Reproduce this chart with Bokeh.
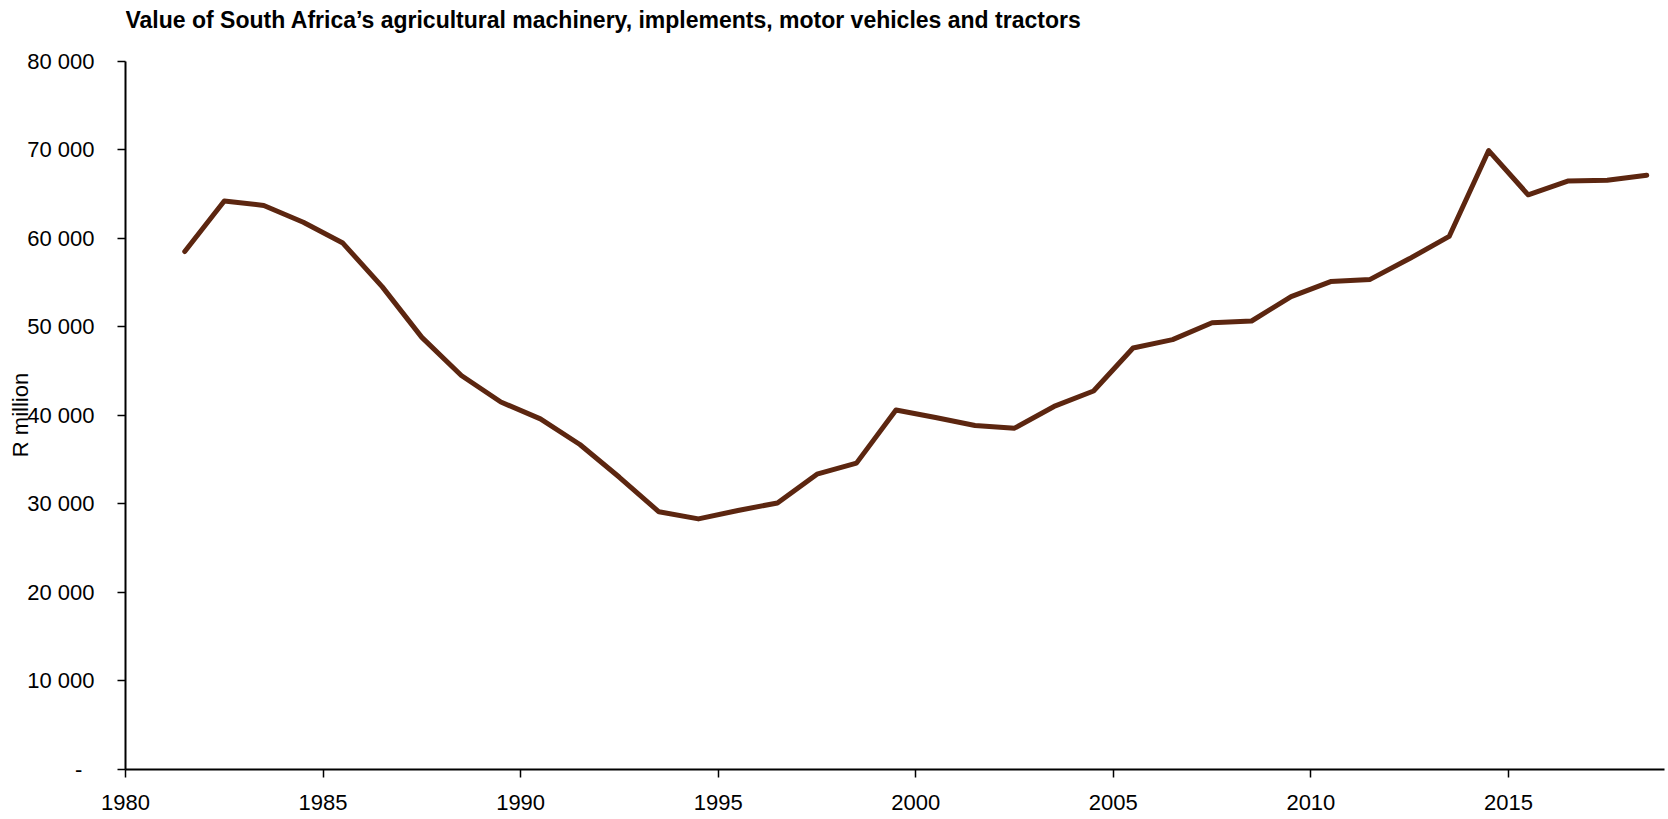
from bokeh.plotting import figure
from bokeh.models import FixedTicker, Range1d, Label
from bokeh.embed import file_html
from bokeh.resources import INLINE

# ---- data ----
title_text = "Value of South Africa\u2019s agricultural machinery, implements, motor vehicles and tractors"
y_axis_title = "R million"

years = [1981, 1982, 1983, 1984, 1985, 1986, 1987, 1988, 1989, 1990,
         1991, 1992, 1993, 1994, 1995, 1996, 1997, 1998, 1999, 2000,
         2001, 2002, 2003, 2004, 2005, 2006, 2007, 2008, 2009, 2010,
         2011, 2012, 2013, 2014, 2015, 2016, 2017, 2018]
values = [58500, 64200, 63700, 61800, 59450, 54500, 48800, 44500, 41500, 39600,
          36700, 33000, 29100, 28300, 29250, 30100, 33350, 34600, 40600, 39750,
          38850, 38550, 41000, 42750, 47600, 48550, 50450, 50650, 53400, 55100,
          55350, 57700, 60200, 69900, 64900, 66450, 66550, 67100]

x_ticks = [1980, 1985, 1990, 1995, 2000, 2005, 2010, 2015]
y_ticks = [0, 10000, 20000, 30000, 40000, 50000, 60000, 70000, 80000]
y_tick_labels = ["-\u00a0\u00a0", "10 000", "20 000", "30 000", "40 000",
                 "50 000", "60 000", "70 000", "80 000"]

FONT = "Liberation Sans"
LINE_COLOR = "#5C2610"

# each year's value is plotted at the middle of its year
x_pos = [y + 0.5 for y in years]

# the frame reaches up to the title row; the y axis itself stops at 80 000
p = figure(width=1666, height=819, output_backend="svg", toolbar_location=None,
           title=None,
           x_range=Range1d(1980, 2018.95), y_range=Range1d(0, 86280),
           min_border_left=125, min_border_right=2, min_border_top=5,
           min_border_bottom=50, background_fill_color="white",
           border_fill_color="white")

p.line(x_pos, values, line_color=LINE_COLOR, line_width=5,
       line_cap="round", line_join="round")

for ax in (p.xaxis[0], p.yaxis[0]):
    ax.axis_line_color = "black"
    ax.axis_line_width = 2
    ax.major_tick_line_color = "black"
    ax.major_tick_line_width = 1.5
    ax.major_tick_in = 0
    ax.major_tick_out = 8
    ax.minor_tick_line_color = None
    ax.major_label_text_font = FONT
    ax.major_label_text_font_size = "22px"
    ax.major_label_text_color = "black"

p.xaxis.ticker = FixedTicker(ticks=x_ticks)
p.xaxis.major_label_standoff = 17
p.yaxis.ticker = FixedTicker(ticks=y_ticks)
p.yaxis.bounds = (y_ticks[0], y_ticks[-1])
p.yaxis.major_label_overrides = {t: l for t, l in zip(y_ticks, y_tick_labels)}
p.yaxis.major_label_standoff = 23

# the axis label is centred on the (taller) frame: trailing no-break spaces
# bring the visible words down to the middle of the 0-80 000 axis
p.yaxis.axis_label = y_axis_title + "\u00a0" * 9
p.yaxis.axis_label_text_font = FONT
p.yaxis.axis_label_text_font_size = "22px"
p.yaxis.axis_label_text_font_style = "normal"
p.yaxis.axis_label_text_color = "black"
p.yaxis.axis_label_standoff = -9

p.grid.grid_line_color = None
p.outline_line_color = None

p.add_layout(Label(x=x_ticks[0], y=84630, text=title_text, text_align="left",
                   text_baseline="alphabetic", text_font=FONT, text_font_size="23px",
                   text_font_style="bold", text_color="black"))

open("out.html", "w").write(file_html(p, INLINE))
